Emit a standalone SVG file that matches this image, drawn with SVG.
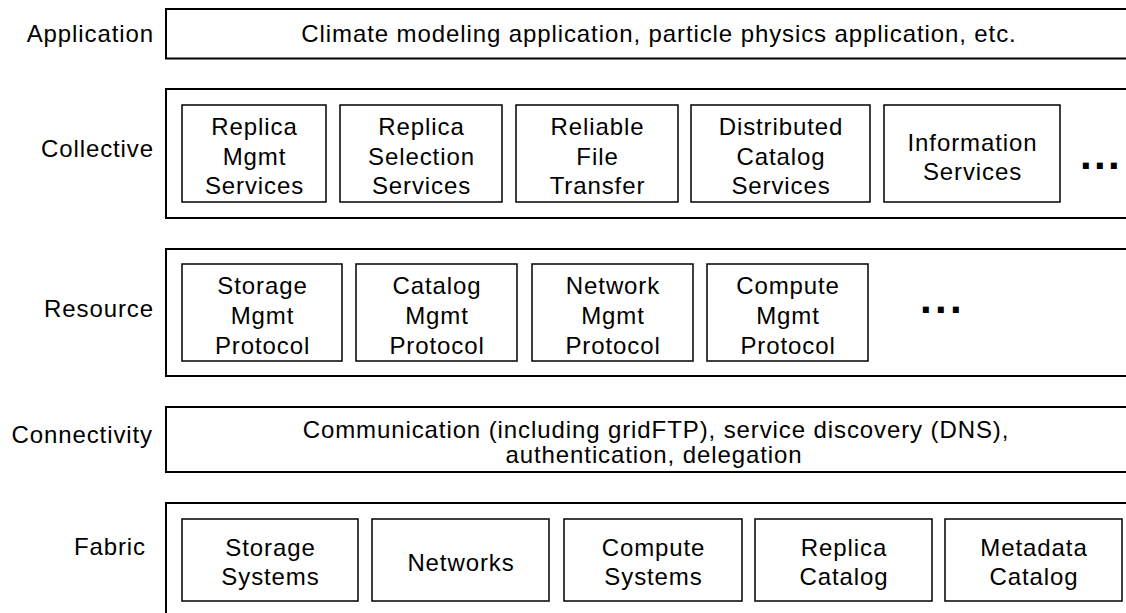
<svg xmlns="http://www.w3.org/2000/svg" width="1126" height="613" viewBox="0 0 1126 613">
<style>
text{font-family:"Liberation Sans",Arial,sans-serif;font-size:24px;fill:#000;letter-spacing:0.9px}
.lbl{text-anchor:end}
.c{text-anchor:middle}
.outer{fill:#fff;stroke:#000;stroke-width:2}
.inner{fill:#fff;stroke:#000;stroke-width:1.5}
.dots{font-weight:bold;font-size:42px}
</style>
<rect width="1126" height="613" fill="#fff"/>
<g id="application">
<text class="lbl" x="154" y="42">Application</text>
<rect class="outer" x="166" y="9" width="990" height="49.5"/>
<text class="c" x="659" y="42">Climate modeling application, particle physics application, etc.</text>
</g>
<g id="collective">
<text class="lbl" x="154" y="157">Collective</text>
<rect class="outer" x="166" y="89" width="990" height="129"/>
<g id="replica-mgmt"><rect class="inner" x="182" y="105" width="144" height="97"/>
<text class="c" x="254.5" y="135">Replica</text><text class="c" x="254.5" y="164.5">Mgmt</text><text class="c" x="254.5" y="194">Services</text></g>
<g id="replica-selection"><rect class="inner" x="340" y="105" width="162" height="97"/>
<text class="c" x="421.5" y="135">Replica</text><text class="c" x="421.5" y="164.5">Selection</text><text class="c" x="421.5" y="194">Services</text></g>
<g id="reliable-file"><rect class="inner" x="516" y="105" width="162" height="97"/>
<text class="c" x="597.5" y="135">Reliable</text><text class="c" x="597.5" y="164.5">File</text><text class="c" x="597.5" y="194">Transfer</text></g>
<g id="distributed-catalog"><rect class="inner" x="691" y="105" width="179" height="97"/>
<text class="c" x="781" y="135">Distributed</text><text class="c" x="781" y="164.5">Catalog</text><text class="c" x="781" y="194">Services</text></g>
<g id="information-services"><rect class="inner" x="884" y="105" width="176" height="97"/>
<text class="c" x="972.5" y="151">Information</text><text class="c" x="972.5" y="180">Services</text></g>
<text class="dots" x="1080" y="168.5" style="letter-spacing:2.3px">...</text>
</g>
<g id="resource">
<text class="lbl" x="154" y="317">Resource</text>
<rect class="outer" x="166" y="249" width="990" height="127"/>
<g id="storage-mgmt"><rect class="inner" x="182" y="264" width="160" height="97"/>
<text class="c" x="262.5" y="294">Storage</text><text class="c" x="262.5" y="324">Mgmt</text><text class="c" x="262.5" y="354">Protocol</text></g>
<g id="catalog-mgmt"><rect class="inner" x="356" y="264" width="161" height="97"/>
<text class="c" x="437" y="294">Catalog</text><text class="c" x="437" y="324">Mgmt</text><text class="c" x="437" y="354">Protocol</text></g>
<g id="network-mgmt"><rect class="inner" x="532" y="264" width="161" height="97"/>
<text class="c" x="613" y="294">Network</text><text class="c" x="613" y="324">Mgmt</text><text class="c" x="613" y="354">Protocol</text></g>
<g id="compute-mgmt"><rect class="inner" x="707" y="264" width="161" height="97"/>
<text class="c" x="788" y="294">Compute</text><text class="c" x="788" y="324">Mgmt</text><text class="c" x="788" y="354">Protocol</text></g>
<text class="dots" x="920" y="312.7" style="letter-spacing:3.3px">...</text>
</g>
<g id="connectivity">
<text class="lbl" x="153" y="443">Connectivity</text>
<rect class="outer" x="166" y="407" width="990" height="65"/>
<text class="c" x="656" y="438">Communication (including gridFTP), service discovery (DNS),</text>
<text class="c" x="654" y="463">authentication, delegation</text>
</g>
<g id="fabric">
<text class="lbl" x="146" y="555">Fabric</text>
<rect class="outer" x="166" y="503" width="990" height="130"/>
<g id="storage-systems"><rect class="inner" x="182" y="519" width="176" height="82"/>
<text class="c" x="270.5" y="556">Storage</text><text class="c" x="270.5" y="585">Systems</text></g>
<g id="networks"><rect class="inner" x="372" y="519" width="177" height="82"/>
<text class="c" x="461" y="571">Networks</text></g>
<g id="compute-systems"><rect class="inner" x="564" y="519" width="178" height="82"/>
<text class="c" x="653.5" y="556">Compute</text><text class="c" x="653.5" y="585">Systems</text></g>
<g id="replica-catalog"><rect class="inner" x="755" y="519" width="177" height="82"/>
<text class="c" x="844" y="556">Replica</text><text class="c" x="844" y="585">Catalog</text></g>
<g id="metadata-catalog"><rect class="inner" x="945" y="519" width="177" height="82"/>
<text class="c" x="1034" y="556">Metadata</text><text class="c" x="1034" y="585">Catalog</text></g>
</g>
</svg>
